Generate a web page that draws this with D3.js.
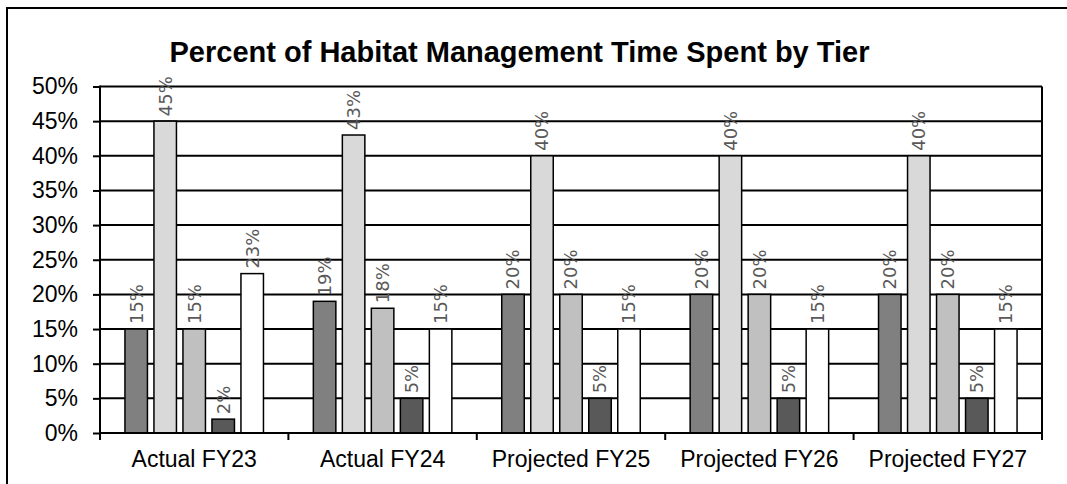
<!DOCTYPE html>
<html>
<head>
<meta charset="utf-8">
<script src="https://cdn.jsdelivr.net/npm/d3@7"></script>
<style>
  body { margin: 0; background: #fff; }
  svg { display: block; }
</style>
</head>
<body>
<div class="container"></div>
<script>
const groups = ["Actual FY23", "Actual FY24", "Projected FY25", "Projected FY26", "Projected FY27"];
const tiers = ["Tier 1", "Tier 2", "Tier 3", "Tier 4", "Tier 5"];
const tier1 = [15, 19, 20, 20, 20];
const tier2 = [45, 43, 40, 40, 40];
const tier3 = [15, 18, 20, 20, 20];
const tier4 = [2, 5, 5, 5, 5];
const tier5 = [23, 15, 15, 15, 15];
const yTicks = [0, 5, 10, 15, 20, 25, 30, 35, 40, 45, 50];
const colors = ["#808080", "#d9d9d9", "#c0c0c0", "#595959", "#ffffff"];

const w = 1067;
const h = 484;
const plotLeft = 100, plotRight = 1042, plotTop = 86.5, plotBottom = 433;

const series = [tier1, tier2, tier3, tier4, tier5];
let rows = [];
groups.forEach((g, gi) => {
  tiers.forEach((t, ti) => {
    rows.push({ group: g, tier: t, value: series[ti][gi] });
  });
});

const svg = d3.select(".container")
  .append("svg")
  .attr("width", w)
  .attr("height", h);

// outer frame
svg.append("rect")
  .attr("x", 7).attr("y", 8)
  .attr("width", w + 10).attr("height", h + 10)
  .attr("fill", "none")
  .attr("stroke", "#000")
  .attr("stroke-width", 2);

svg.append("text")
  .attr("x", (167 + 872) / 2)
  .attr("y", 62)
  .attr("text-anchor", "middle")
  .style("font-family", "Liberation Sans, Arial, sans-serif")
  .style("font-weight", "bold")
  .style("font-size", "29px")
  .text("Percent of Habitat Management Time Spent by Tier");

const x0 = d3.scaleBand().domain(groups).range([plotLeft, plotRight]);
const x1 = d3.scaleBand().domain(tiers).range([0, x0.bandwidth()])
  .paddingInner(0.224).paddingOuter(0.86);
const y = d3.scaleLinear().domain([0, 50]).range([plotBottom, plotTop]);

// gridlines
svg.append("g")
  .selectAll("line")
  .data(yTicks)
  .join("line")
  .attr("x1", plotLeft).attr("x2", plotRight)
  .attr("y1", d => y(d)).attr("y2", d => y(d))
  .attr("stroke", "#000")
  .attr("stroke-width", 2);

// right edge of plot
svg.append("line")
  .attr("x1", plotRight).attr("x2", plotRight)
  .attr("y1", plotTop).attr("y2", plotBottom)
  .attr("stroke", "#000").attr("stroke-width", 2);

// bars
svg.append("g")
  .selectAll("rect")
  .data(rows)
  .join("rect")
  .attr("x", d => x0(d.group) + x1(d.tier))
  .attr("y", d => y(d.value))
  .attr("width", x1.bandwidth())
  .attr("height", d => y(0) - y(d.value))
  .attr("fill", d => colors[tiers.indexOf(d.tier)])
  .attr("stroke", "#000")
  .attr("stroke-width", 1.5);

// value labels
svg.append("g")
  .selectAll("text")
  .data(rows)
  .join("text")
  .attr("transform", d => "translate(" + (x0(d.group) + x1(d.tier) + x1.bandwidth() / 2) + "," + (y(d.value) - 5) + ") rotate(-90)")
  .attr("dy", "0.35em")
  .attr("text-anchor", "start")
  .style("font-family", "DejaVu Sans, sans-serif")
  .style("font-size", "18px")
  .attr("fill", "#595959")
  .text(d => d.value + "%");

// y axis
const yAxis = d3.axisLeft(y)
  .tickValues(yTicks)
  .tickFormat(d => d + "%")
  .tickSize(7)
  .tickPadding(15);
const gy = svg.append("g")
  .attr("transform", "translate(" + plotLeft + ",0)")
  .call(yAxis);
gy.select(".domain").attr("stroke-width", 2).attr("d", "M0," + (plotTop - 1) + "V" + plotBottom);
gy.selectAll(".tick line").attr("stroke-width", 2);
gy.selectAll("text")
  .style("font-family", "Liberation Sans, Arial, sans-serif")
  .style("font-size", "23px")
  .attr("fill", "#000");

// x axis
const xAxis = d3.axisBottom(x0).tickSize(0).tickPadding(18);
const gx = svg.append("g")
  .attr("transform", "translate(0," + plotBottom + ")")
  .call(xAxis);
gx.select(".domain").attr("stroke-width", 2).attr("d", "M" + plotLeft + ",0H" + plotRight);
gx.selectAll("text")
  .style("font-family", "Liberation Sans, Arial, sans-serif")
  .style("font-size", "23px")
  .attr("fill", "#000");

// category boundary ticks
svg.append("g")
  .selectAll("line")
  .data(groups.concat(["end"]))
  .join("line")
  .attr("x1", (d, i) => i < groups.length ? x0(d) : plotRight)
  .attr("x2", (d, i) => i < groups.length ? x0(d) : plotRight)
  .attr("y1", plotBottom).attr("y2", plotBottom + 7)
  .attr("stroke", "#000").attr("stroke-width", 2);
</script>
</body>
</html>
